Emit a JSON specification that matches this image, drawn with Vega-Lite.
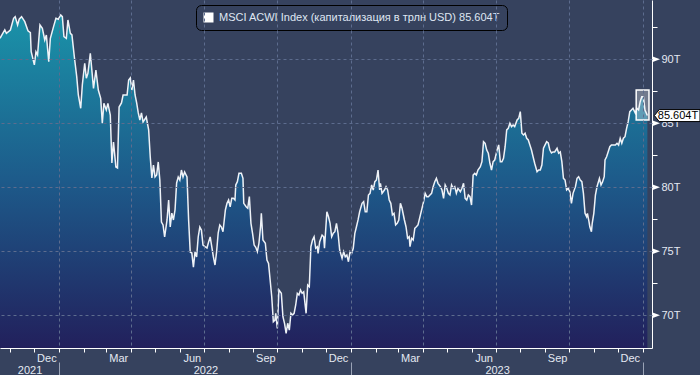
{
"$schema": "https://vega.github.io/schema/vega-lite/v6.json",
"width": 652, "height": 348,
"autosize": "none",
"padding": {"left": 0, "top": 0, "right": 48, "bottom": 27},
"background": "#36425e",
"config": {"view": {"stroke": null}, "font": "Liberation Sans", "axis": {"labelFont": "Liberation Sans", "labelFontSize": 11, "labelColor": "#e4e9f2", "title": null}},
"datasets": {
"idx": [
{"d":"2021-10-19","v":91.64},{"d":"2021-10-23","v":92.08},{"d":"2021-10-25","v":92.29},{"d":"2021-10-27","v":92.03},{"d":"2021-11-01","v":92.29},{"d":"2021-11-05","v":93.20},{"d":"2021-11-07","v":93.33},{"d":"2021-11-10","v":92.68},{"d":"2021-11-12","v":93.13},{"d":"2021-11-15","v":93.33},{"d":"2021-11-19","v":92.94},{"d":"2021-11-23","v":92.23},{"d":"2021-11-26","v":92.08},{"d":"2021-11-27","v":90.59},{"d":"2021-11-28","v":90.34},{"d":"2021-12-01","v":89.56},{"d":"2021-12-03","v":90.59},{"d":"2021-12-05","v":90.34},{"d":"2021-12-08","v":92.68},{"d":"2021-12-11","v":92.42},{"d":"2021-12-14","v":91.51},{"d":"2021-12-16","v":91.90},{"d":"2021-12-19","v":89.81},{"d":"2021-12-21","v":91.64},{"d":"2021-12-25","v":92.55},{"d":"2021-12-28","v":93.20},{"d":"2021-12-31","v":93.13},
{"d":"2022-01-03","v":93.46},{"d":"2022-01-05","v":93.33},{"d":"2022-01-07","v":91.77},{"d":"2022-01-10","v":91.64},{"d":"2022-01-12","v":93.07},{"d":"2022-01-15","v":92.03},{"d":"2022-01-17","v":91.90},{"d":"2022-01-20","v":90.20},{"d":"2022-01-23","v":88.64},{"d":"2022-01-25","v":87.21},{"d":"2022-01-28","v":86.17},{"d":"2022-01-30","v":87.99},{"d":"2022-02-02","v":89.69},{"d":"2022-02-04","v":88.52},{"d":"2022-02-06","v":88.91},{"d":"2022-02-09","v":90.47},{"d":"2022-02-13","v":87.73},{"d":"2022-02-16","v":89.16},{"d":"2022-02-19","v":87.60},{"d":"2022-02-22","v":86.95},{"d":"2022-02-24","v":85.00},{"d":"2022-02-26","v":86.56},{"d":"2022-03-01","v":86.04},{"d":"2022-03-03","v":86.56},{"d":"2022-03-06","v":85.65},{"d":"2022-03-08","v":81.90},{"d":"2022-03-10","v":83.54},{"d":"2022-03-13","v":81.59},{"d":"2022-03-15","v":81.51},{"d":"2022-03-17","v":86.27},{"d":"2022-03-20","v":86.59},{"d":"2022-03-22","v":87.21},{"d":"2022-03-27","v":87.21},{"d":"2022-03-29","v":88.38},{"d":"2022-03-31","v":88.54},
{"d":"2022-04-02","v":87.60},{"d":"2022-04-04","v":88.38},{"d":"2022-04-06","v":87.21},{"d":"2022-04-08","v":86.59},{"d":"2022-04-10","v":85.81},{"d":"2022-04-12","v":85.26},{"d":"2022-04-14","v":85.81},{"d":"2022-04-16","v":85.10},{"d":"2022-04-20","v":85.49},{"d":"2022-04-23","v":84.48},{"d":"2022-04-25","v":82.37},{"d":"2022-04-27","v":80.73},{"d":"2022-04-29","v":81.74},{"d":"2022-05-01","v":80.81},{"d":"2022-05-03","v":80.96},{"d":"2022-05-05","v":81.98},{"d":"2022-05-07","v":80.57},{"d":"2022-05-09","v":77.29},{"d":"2022-05-11","v":77.06},{"d":"2022-05-13","v":76.12},{"d":"2022-05-16","v":77.45},{"d":"2022-05-18","v":79.01},{"d":"2022-05-20","v":76.90},{"d":"2022-05-22","v":77.99},{"d":"2022-05-24","v":77.45},{"d":"2022-05-26","v":78.23},{"d":"2022-05-28","v":80.34},{"d":"2022-05-30","v":80.81},
{"d":"2022-06-01","v":80.57},{"d":"2022-06-03","v":81.35},{"d":"2022-06-05","v":80.81},{"d":"2022-06-07","v":81.20},{"d":"2022-06-10","v":80.81},{"d":"2022-06-12","v":77.45},{"d":"2022-06-14","v":74.95},{"d":"2022-06-16","v":74.87},{"d":"2022-06-18","v":73.77},{"d":"2022-06-20","v":74.95},{"d":"2022-06-22","v":74.56},{"d":"2022-06-24","v":76.12},{"d":"2022-06-26","v":76.90},{"d":"2022-06-28","v":76.66},{"d":"2022-06-30","v":75.49},{"d":"2022-07-03","v":75.34},{"d":"2022-07-05","v":75.26},{"d":"2022-07-07","v":75.73},{"d":"2022-07-09","v":76.12},{"d":"2022-07-11","v":75.34},{"d":"2022-07-13","v":74.56},{"d":"2022-07-15","v":73.93},{"d":"2022-07-17","v":74.95},{"d":"2022-07-19","v":76.43},{"d":"2022-07-21","v":77.06},{"d":"2022-07-23","v":76.90},{"d":"2022-07-25","v":76.53},{"d":"2022-07-28","v":78.23},{"d":"2022-07-30","v":78.75},
{"d":"2022-08-01","v":79.01},{"d":"2022-08-03","v":78.48},{"d":"2022-08-05","v":79.14},{"d":"2022-08-07","v":79.14},{"d":"2022-08-09","v":79.01},{"d":"2022-08-10","v":80.18},{"d":"2022-08-12","v":80.44},{"d":"2022-08-14","v":81.09},{"d":"2022-08-17","v":81.09},{"d":"2022-08-19","v":80.70},{"d":"2022-08-20","v":78.75},{"d":"2022-08-23","v":78.48},{"d":"2022-08-25","v":78.36},{"d":"2022-08-27","v":79.27},{"d":"2022-08-29","v":77.19},{"d":"2022-08-31","v":76.41},{"d":"2022-09-02","v":75.49},{"d":"2022-09-04","v":75.31},{"d":"2022-09-06","v":74.97},{"d":"2022-09-08","v":75.63},{"d":"2022-09-10","v":76.92},{"d":"2022-09-11","v":77.97},{"d":"2022-09-13","v":75.88},{"d":"2022-09-16","v":75.63},{"d":"2022-09-18","v":74.32},{"d":"2022-09-20","v":74.06},{"d":"2022-09-22","v":72.76},{"d":"2022-09-24","v":71.45},{"d":"2022-09-26","v":69.50},{"d":"2022-09-28","v":69.63},{"d":"2022-09-29","v":70.16},
{"d":"2022-10-01","v":68.98},{"d":"2022-10-03","v":71.98},{"d":"2022-10-06","v":71.72},{"d":"2022-10-08","v":69.89},{"d":"2022-10-10","v":69.38},{"d":"2022-10-12","v":68.59},{"d":"2022-10-14","v":69.38},{"d":"2022-10-16","v":68.85},{"d":"2022-10-18","v":70.16},{"d":"2022-10-20","v":70.02},{"d":"2022-10-22","v":70.16},{"d":"2022-10-24","v":70.81},{"d":"2022-10-26","v":71.72},{"d":"2022-10-28","v":71.59},{"d":"2022-10-30","v":71.98},{"d":"2022-11-01","v":71.72},{"d":"2022-11-03","v":71.84},{"d":"2022-11-06","v":70.16},{"d":"2022-11-08","v":72.37},{"d":"2022-11-10","v":72.24},{"d":"2022-11-12","v":75.36},{"d":"2022-11-14","v":75.88},{"d":"2022-11-16","v":76.14},{"d":"2022-11-18","v":75.24},{"d":"2022-11-20","v":75.36},{"d":"2022-11-21","v":74.84},{"d":"2022-11-23","v":75.75},{"d":"2022-11-26","v":76.27},{"d":"2022-11-28","v":76.14},{"d":"2022-11-29","v":75.24},
{"d":"2022-12-02","v":78.09},{"d":"2022-12-04","v":77.70},{"d":"2022-12-06","v":77.19},{"d":"2022-12-08","v":76.14},{"d":"2022-12-10","v":76.41},{"d":"2022-12-12","v":76.53},{"d":"2022-12-14","v":77.19},{"d":"2022-12-16","v":76.41},{"d":"2022-12-18","v":75.10},{"d":"2022-12-21","v":74.45},{"d":"2022-12-23","v":74.97},{"d":"2022-12-25","v":74.58},{"d":"2022-12-27","v":74.71},{"d":"2022-12-29","v":74.19},{"d":"2022-12-31","v":74.97},
{"d":"2023-01-02","v":74.84},{"d":"2023-01-04","v":75.24},{"d":"2023-01-06","v":76.41},{"d":"2023-01-08","v":76.92},{"d":"2023-01-10","v":77.45},{"d":"2023-01-12","v":78.09},{"d":"2023-01-15","v":78.75},{"d":"2023-01-17","v":78.88},{"d":"2023-01-19","v":78.09},{"d":"2023-01-21","v":78.09},{"d":"2023-01-23","v":79.40},{"d":"2023-01-25","v":79.53},{"d":"2023-01-27","v":80.18},{"d":"2023-01-29","v":79.79},{"d":"2023-01-31","v":80.44},{"d":"2023-02-02","v":80.57},{"d":"2023-02-04","v":81.35},{"d":"2023-02-06","v":79.79},{"d":"2023-02-07","v":80.31},{"d":"2023-02-09","v":79.53},{"d":"2023-02-12","v":79.79},{"d":"2023-02-14","v":80.05},{"d":"2023-02-16","v":79.79},{"d":"2023-02-18","v":79.01},{"d":"2023-02-20","v":78.75},{"d":"2023-02-22","v":77.84},{"d":"2023-02-24","v":77.97},{"d":"2023-02-26","v":77.06},{"d":"2023-02-28","v":77.19},
{"d":"2023-03-02","v":77.45},{"d":"2023-03-04","v":78.75},{"d":"2023-03-06","v":78.36},{"d":"2023-03-09","v":77.45},{"d":"2023-03-11","v":76.92},{"d":"2023-03-13","v":76.02},{"d":"2023-03-15","v":76.14},{"d":"2023-03-16","v":75.36},{"d":"2023-03-18","v":76.02},{"d":"2023-03-20","v":75.88},{"d":"2023-03-22","v":76.80},{"d":"2023-03-24","v":76.92},{"d":"2023-03-26","v":77.06},{"d":"2023-03-29","v":77.84},{"d":"2023-03-31","v":78.36},{"d":"2023-04-02","v":78.88},{"d":"2023-04-04","v":79.53},{"d":"2023-04-06","v":79.27},{"d":"2023-04-08","v":79.27},{"d":"2023-04-10","v":79.40},{"d":"2023-04-12","v":79.53},{"d":"2023-04-14","v":80.05},{"d":"2023-04-16","v":80.44},{"d":"2023-04-18","v":80.70},{"d":"2023-04-20","v":80.31},{"d":"2023-04-23","v":80.05},{"d":"2023-04-25","v":79.79},{"d":"2023-04-27","v":79.14},{"d":"2023-04-29","v":80.18},
{"d":"2023-05-01","v":79.92},{"d":"2023-05-03","v":79.53},{"d":"2023-05-05","v":79.40},{"d":"2023-05-07","v":80.18},{"d":"2023-05-09","v":79.92},{"d":"2023-05-11","v":80.05},{"d":"2023-05-13","v":79.53},{"d":"2023-05-15","v":79.92},{"d":"2023-05-18","v":79.66},{"d":"2023-05-20","v":79.92},{"d":"2023-05-22","v":80.31},{"d":"2023-05-24","v":79.14},{"d":"2023-05-26","v":79.01},{"d":"2023-05-28","v":79.40},{"d":"2023-05-30","v":79.27},{"d":"2023-06-01","v":78.62},{"d":"2023-06-03","v":80.96},{"d":"2023-06-05","v":81.09},{"d":"2023-06-07","v":80.96},{"d":"2023-06-09","v":81.35},{"d":"2023-06-12","v":81.61},{"d":"2023-06-14","v":82.00},{"d":"2023-06-16","v":83.56},{"d":"2023-06-18","v":83.44},{"d":"2023-06-20","v":82.91},{"d":"2023-06-22","v":82.66},{"d":"2023-06-24","v":81.88},{"d":"2023-06-26","v":81.35},{"d":"2023-06-28","v":82.00},{"d":"2023-06-30","v":82.13},
{"d":"2023-07-03","v":82.91},{"d":"2023-07-05","v":83.31},{"d":"2023-07-07","v":82.00},{"d":"2023-07-09","v":82.00},{"d":"2023-07-11","v":82.27},{"d":"2023-07-13","v":83.17},{"d":"2023-07-15","v":84.48},{"d":"2023-07-17","v":84.61},{"d":"2023-07-19","v":85.00},{"d":"2023-07-21","v":84.74},{"d":"2023-07-23","v":84.87},{"d":"2023-07-25","v":84.74},{"d":"2023-07-28","v":85.26},{"d":"2023-07-30","v":85.39},{"d":"2023-08-01","v":85.91},{"d":"2023-08-03","v":84.22},{"d":"2023-08-05","v":84.09},{"d":"2023-08-07","v":84.22},{"d":"2023-08-09","v":83.83},{"d":"2023-08-11","v":83.70},{"d":"2023-08-13","v":83.31},{"d":"2023-08-15","v":82.91},{"d":"2023-08-17","v":82.39},{"d":"2023-08-19","v":81.88},{"d":"2023-08-22","v":81.22},{"d":"2023-08-24","v":81.35},{"d":"2023-08-26","v":81.35},{"d":"2023-08-28","v":81.74},{"d":"2023-08-30","v":83.05},
{"d":"2023-09-01","v":83.31},{"d":"2023-09-03","v":83.56},{"d":"2023-09-05","v":83.46},{"d":"2023-09-07","v":82.91},{"d":"2023-09-09","v":82.68},{"d":"2023-09-11","v":82.76},{"d":"2023-09-13","v":82.76},{"d":"2023-09-16","v":83.05},{"d":"2023-09-18","v":82.66},{"d":"2023-09-20","v":82.76},{"d":"2023-09-22","v":82.00},{"d":"2023-09-24","v":80.70},{"d":"2023-09-26","v":80.57},{"d":"2023-09-28","v":79.79},{"d":"2023-09-30","v":79.92},{"d":"2023-10-02","v":79.66},{"d":"2023-10-04","v":78.75},{"d":"2023-10-06","v":79.53},{"d":"2023-10-09","v":80.05},{"d":"2023-10-11","v":80.70},{"d":"2023-10-13","v":80.83},{"d":"2023-10-15","v":80.57},{"d":"2023-10-17","v":80.44},{"d":"2023-10-19","v":79.53},{"d":"2023-10-21","v":77.97},{"d":"2023-10-23","v":77.70},{"d":"2023-10-24","v":77.97},{"d":"2023-10-26","v":77.31},{"d":"2023-10-27","v":76.92},{"d":"2023-10-29","v":76.53},{"d":"2023-10-30","v":77.19},
{"d":"2023-11-01","v":77.97},{"d":"2023-11-03","v":79.40},{"d":"2023-11-05","v":80.05},{"d":"2023-11-08","v":80.70},{"d":"2023-11-10","v":80.18},{"d":"2023-11-12","v":80.44},{"d":"2023-11-14","v":80.83},{"d":"2023-11-15","v":82.13},{"d":"2023-11-17","v":82.39},{"d":"2023-11-19","v":82.78},{"d":"2023-11-21","v":83.17},{"d":"2023-11-23","v":83.30},{"d":"2023-11-25","v":83.30},{"d":"2023-11-28","v":83.30},{"d":"2023-11-30","v":83.44},{"d":"2023-12-02","v":83.30},{"d":"2023-12-04","v":83.83},{"d":"2023-12-06","v":83.44},{"d":"2023-12-08","v":83.83},{"d":"2023-12-10","v":83.95},{"d":"2023-12-12","v":84.61},{"d":"2023-12-14","v":85.13},{"d":"2023-12-16","v":85.91},{"d":"2023-12-18","v":86.04},{"d":"2023-12-20","v":86.17},{"d":"2023-12-23","v":85.78},{"d":"2023-12-25","v":86.17},{"d":"2023-12-27","v":86.04},{"d":"2023-12-29","v":86.69},{"d":"2023-12-31","v":87.08},{"d":"2024-01-02","v":87.08},{"d":"2024-01-04","v":86.04},{"d":"2024-01-07","v":85.604}
],
"yticks": [{"t":70},{"t":75},{"t":80},{"t":85},{"t":90}],
"last": [{"v":85.604,"label":"85.604T"}],
"box": [{"x0":"2023-12-24","x1":"2024-01-09","lo":85.26,"hi":87.6}]
},
"layer": [
{
"data": {"name": "idx"},
"mark": {"type": "area", "clip": true, "color": {"gradient": "linear", "x1": 0, "y1": 0, "x2": 0, "y2": 1, "stops": [{"offset": 0, "color": "#1a93a9"}, {"offset": 0.5, "color": "#1d5a8a"}, {"offset": 1, "color": "#22205c"}]}},
"encoding": {
"x": {"field": "d", "type": "temporal", "scale": {"type": "utc", "domain": [{"year":2021,"month":10,"date":19,"utc":true},{"year":2024,"month":1,"date":12,"hours":19,"utc":true}]},
"axis": {"orient": "bottom", "values": [{"year":2022,"month":1,"date":1,"utc":true},{"year":2022,"month":4,"date":1,"utc":true},{"year":2022,"month":7,"date":1,"utc":true},{"year":2022,"month":10,"date":1,"utc":true},{"year":2023,"month":1,"date":1,"utc":true},{"year":2023,"month":4,"date":1,"utc":true},{"year":2023,"month":7,"date":1,"utc":true},{"year":2023,"month":10,"date":1,"utc":true},{"year":2024,"month":1,"date":1,"utc":true}], "grid": true, "gridColor": "#5d6c8e", "gridDash": [3, 3], "gridWidth": 1, "ticks": false, "labels": false, "domain": false, "zindex": 1}},
"y": {"field": "v", "type": "quantitative", "scale": {"domain": [67.45, 94.63], "zero": false, "nice": false},
"axis": {"orient": "right", "values": [70, 75, 80, 85, 90], "grid": true, "gridColor": "#5d6c8e", "gridDash": [3, 3], "gridWidth": 1, "ticks": false, "labels": false, "domain": false, "zindex": 1}},
"y2": {"datum": 67.45}
}
},
{
"data": {"name": "idx"},
"mark": {"type": "line", "clip": true, "color": "#eef2f7", "strokeWidth": 1.5},
"encoding": {
"x": {"field": "d", "type": "temporal", "scale": {"type": "utc", "domain": [{"year":2021,"month":10,"date":19,"utc":true},{"year":2024,"month":1,"date":12,"hours":19,"utc":true}]},
"axis": {"orient": "bottom", "values": [{"year":2021,"month":11,"date":1,"utc":true},{"year":2021,"month":12,"date":1,"utc":true},{"year":2022,"month":1,"date":1,"utc":true},{"year":2022,"month":2,"date":1,"utc":true},{"year":2022,"month":3,"date":1,"utc":true},{"year":2022,"month":4,"date":1,"utc":true},{"year":2022,"month":5,"date":1,"utc":true},{"year":2022,"month":6,"date":1,"utc":true},{"year":2022,"month":7,"date":1,"utc":true},{"year":2022,"month":8,"date":1,"utc":true},{"year":2022,"month":9,"date":1,"utc":true},{"year":2022,"month":10,"date":1,"utc":true},{"year":2022,"month":11,"date":1,"utc":true},{"year":2022,"month":12,"date":1,"utc":true},{"year":2023,"month":1,"date":1,"utc":true},{"year":2023,"month":2,"date":1,"utc":true},{"year":2023,"month":3,"date":1,"utc":true},{"year":2023,"month":4,"date":1,"utc":true},{"year":2023,"month":5,"date":1,"utc":true},{"year":2023,"month":6,"date":1,"utc":true},{"year":2023,"month":7,"date":1,"utc":true},{"year":2023,"month":8,"date":1,"utc":true},{"year":2023,"month":9,"date":1,"utc":true},{"year":2023,"month":10,"date":1,"utc":true},{"year":2023,"month":11,"date":1,"utc":true},{"year":2023,"month":12,"date":1,"utc":true},{"year":2024,"month":1,"date":1,"utc":true}],
"labelExpr": "(utcmonth(datum.value) + 1) % 3 == 0 ? utcFormat(datum.value, '%b') : ''", "labelOffset": 12, "labelOverlap": false, "labelFlush": false, "labelBound": false, "labelPadding": 0, "labelFontSize": 11, "labelColor": "#e4e9f2", "tickSize": 4, "tickColor": "#ffffff", "tickWidth": 1, "domainColor": "#ffffff", "domainWidth": 1, "grid": false, "zindex": 1}},
"y": {"field": "v", "type": "quantitative", "scale": {"domain": [67.45, 94.63], "zero": false, "nice": false},
"axis": {"orient": "right", "values": [70, 72.5, 75, 77.5, 80, 82.5, 85, 87.5, 90, 92.5], "labelExpr": "datum.value % 5 == 0 ? datum.value + 'T' : ''", "labelOverlap": false, "labelPadding": 4, "labelFontSize": 11, "labelColor": "#e4e9f2", "labelBaseline": "middle", "tickSize": 5, "tickColor": "#ffffff", "domainColor": "#ffffff", "domainWidth": 1, "grid": false, "zindex": 0}}
}
},
{
"data": {"name": "box"},
"mark": {"type": "rect", "fill": "#ffffff", "fillOpacity": 0.3, "stroke": "#ffffff", "strokeWidth": 1.5},
"encoding": {
"x": {"field": "x0", "type": "temporal", "axis": {"orient": "bottom", "offset": 14, "values": [{"year":2022,"month":1,"date":1,"utc":true},{"year":2023,"month":1,"date":1,"utc":true},{"year":2024,"month":1,"date":1,"utc":true}], "labels": false, "domain": false, "grid": false, "tickSize": 13, "tickColor": "#9aa3b6", "tickWidth": 1}},
"x2": {"field": "x1"},
"y": {"field": "lo", "type": "quantitative", "axis": null},
"y2": {"field": "hi"}
}
},
{
"data": {"name": "yticks"},
"mark": {"type": "point", "shape": "M0,-0.75L2,0L0,0.75Z", "size": 64, "filled": true, "opacity": 1, "clip": false},
"encoding": {
"x": {"datum": {"year":2024,"month":1,"date":12,"hours":19,"utc":true}, "type": "temporal", "axis": {"orient": "bottom", "offset": 14, "values": [{"year":2021,"month":11,"date":25,"utc":true},{"year":2022,"month":7,"date":3,"utc":true},{"year":2023,"month":7,"date":3,"utc":true}], "format": "%Y", "labelOverlap": false, "labelFlush": false, "labelBound": false, "ticks": false, "tickSize": 0, "labelPadding": 2, "domain": false, "grid": false, "labelFontSize": 11, "labelColor": "#e4e9f2"}},
"y": {"field": "t", "type": "quantitative", "axis": null},
"color": {"datum": "MSCI ACWI Index (капитализация в трлн USD) 85.604T", "scale": {"range": ["#ffffff"]},
"legend": {"orient": "none", "legendX": 196, "legendY": 5, "title": null, "symbolType": "square", "symbolSize": 100, "symbolFillColor": "#ffffff", "symbolStrokeColor": "#ffffff", "symbolStrokeWidth": 0, "symbolOpacity": 1, "labelFont": "Liberation Sans", "labelFontSize": 11, "labelColor": "#dfe6f2", "labelLimit": 0, "labelOffset": 5, "strokeColor": "#000000", "fillColor": "#36425e", "cornerRadius": 5, "padding": 7}}
}
},
{
"data": {"name": "last"},
"mark": {"type": "point", "shape": "M0.2,0L0.6,-0.5L4,-0.5L4,0.5L0.6,0.5Z", "size": 576, "filled": true, "fill": "#ffffff", "stroke": "#000000", "strokeWidth": 1, "opacity": 1, "clip": false},
"encoding": {
"x": {"datum": {"year":2024,"month":1,"date":12,"hours":19,"utc":true}, "type": "temporal", "axis": null},
"y": {"field": "v", "type": "quantitative", "axis": null}
}
},
{
"data": {"name": "last"},
"mark": {"type": "text", "dx": 26, "align": "center", "baseline": "middle", "color": "#000000", "font": "Liberation Sans", "fontSize": 11},
"encoding": {
"x": {"datum": {"year":2024,"month":1,"date":12,"hours":19,"utc":true}, "type": "temporal", "axis": null},
"y": {"field": "v", "type": "quantitative", "axis": null},
"text": {"field": "label"}
}
}
],
"resolve": {"axis": {"x": "independent", "y": "independent"}}
}
